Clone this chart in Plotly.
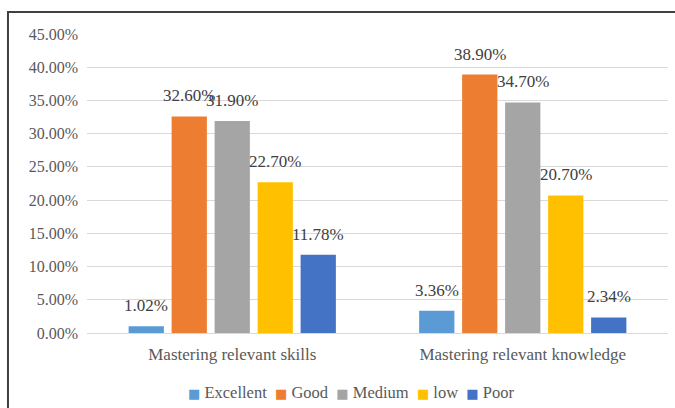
import plotly.graph_objects as go

categories = ["Mastering relevant skills", "Mastering relevant knowledge"]
series_names = ["Excellent", "Good", "Medium", "low", "Poor"]
excellent = [1.02, 3.36]
good = [32.60, 38.90]
medium = [31.90, 34.70]
low = [22.70, 20.70]
poor = [11.78, 2.34]
colors = ["#5b9bd5", "#ed7d31", "#a5a5a5", "#ffc000", "#4472c4"]

series = [excellent, good, medium, low, poor]

BARGAP = 0.26
GROUPGAP = 0.18
SERIF = "Times New Roman, Liberation Serif, serif"

fig = go.Figure()
annotations = []
n = len(series)
for j, (name, vals, col) in enumerate(zip(series_names, series, colors)):
    fig.add_trace(go.Bar(
        name=name, x=categories, y=[v / 100 for v in vals],
        marker=dict(color=col, line=dict(width=0)),
        showlegend=False,
        hovertemplate="%{x}<br>" + name + ": %{y:.2%}<extra></extra>",
    ))
    # data labels above each bar (offset within the category group)
    off = -(1 - BARGAP) / 2 + (j + 0.5) * (1 - BARGAP) / n
    for i, v in enumerate(vals):
        annotations.append(dict(
            x=i + off, y=v / 100, xref="x", yref="y",
            text=f"{v:.2f}%", showarrow=False, yanchor="bottom", xanchor="center",
            yshift=9, font=dict(family=SERIF, size=17, color="#404040"),
        ))

# compact legend row, built from the series names / colours
sep = "\u00a0\u00a0"
legend_txt = sep.join(
    f"<span style='font-family:DejaVu Sans;font-size:13px;color:{c}'>\u25a0</span>\u00a0{nm}"
    for nm, c in zip(series_names, colors)
)
annotations.append(dict(
    x=0.454, y=-0.2, xref="paper", yref="paper", xanchor="center", yanchor="middle",
    text=legend_txt, showarrow=False, font=dict(family=SERIF, size=16.5, color="#595959"),
))

fig.update_layout(
    width=675, height=408,
    margin=dict(l=87, r=7, t=34, b=75),
    paper_bgcolor="white", plot_bgcolor="white",
    barmode="group", bargap=BARGAP, bargroupgap=GROUPGAP,
    font=dict(family=SERIF, size=16, color="#595959"),
    showlegend=False,
    annotations=annotations,
    yaxis=dict(range=[0, 0.45], dtick=0.05, tickformat=".2%", showgrid=True,
               gridcolor="#d9d9d9", gridwidth=1, zeroline=False, ticks="",
               ticklabelstandoff=8,
               tickfont=dict(family=SERIF, size=16, color="#595959")),
    xaxis=dict(showline=True, linecolor="#d9d9d9", linewidth=1, ticks="",
               ticklabelstandoff=6,
               tickfont=dict(family=SERIF, size=17, color="#595959")),
    shapes=[dict(type="rect", xref="paper", yref="paper",
                 x0=-0.136, x1=1.03, y0=-0.3, y1=1.0736,
                 line=dict(color="#404040", width=2), fillcolor="rgba(0,0,0,0)", layer="below")],
)

fig.write_html("out.html")
